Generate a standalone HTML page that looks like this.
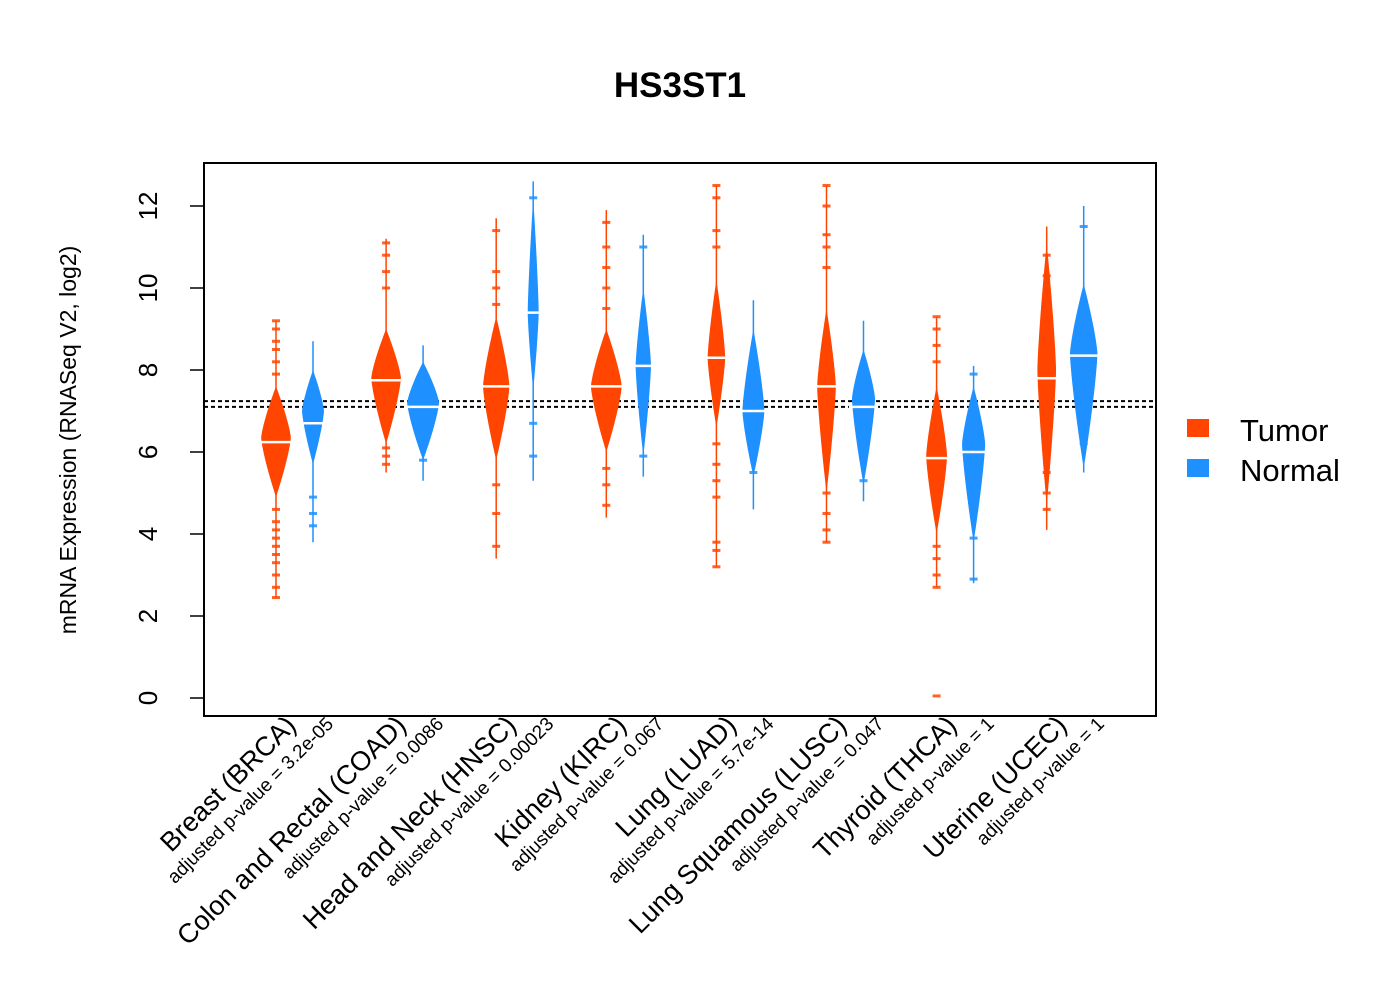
<!DOCTYPE html>
<html><head><meta charset="utf-8"><style>
body{margin:0;background:#fff}
svg text{font-family:"Liberation Sans",sans-serif}
</style></head><body>
<svg id="chart" width="1400" height="1000" viewBox="0 0 1400 1000" xmlns="http://www.w3.org/2000/svg">
<rect x="0" y="0" width="1400" height="1000" fill="#fff"/>
<text x="680" y="97" text-anchor="middle" font-size="35" font-weight="bold">HS3ST1</text>
<text transform="translate(76,440) rotate(-90)" text-anchor="middle" font-size="23">mRNA Expression (RNASeq V2, log2)</text>
<g id="beans"></g>
<g id="axes"></g>
<rect x="204" y="163" width="952" height="553" fill="none" stroke="#000" stroke-width="2"/>
<g>
<rect x="1187" y="419" width="22" height="18" fill="#FF4500"/>
<text x="1240" y="441" font-size="31">Tumor</text>
<rect x="1187" y="459" width="22" height="18" fill="#1E90FF"/>
<text x="1240" y="481" font-size="31">Normal</text>
</g>
</svg>
<script>
const cancers=["Breast (BRCA)","Colon and Rectal (COAD)","Head and Neck (HNSC)","Kidney (KIRC)","Lung (LUAD)","Lung Squamous (LUSC)","Thyroid (THCA)","Uterine (UCEC)"];
const pvals=["3.2e-05","0.0086","0.00023","0.067","5.7e-14","0.047","1","1"];
const yTicks=[0,2,4,6,8,10,12];
const refLines=[7.24,7.1];
// tumor beans
const tLo=[2.45,5.5,3.4,4.4,3.2,3.8,2.7,4.1];
const tHi=[9.2,11.2,11.7,11.9,12.5,12.5,9.3,11.5];
const tBodyLo=[4.9,6.2,5.8,6.0,6.6,5.0,4.0,4.7];
const tBodyHi=[7.6,9.0,9.3,9.0,10.2,9.5,7.6,11.1];
const tMode=[6.35,7.8,7.6,7.6,8.3,7.6,5.9,8.0];
const tMed=[6.24,7.75,7.6,7.6,8.3,7.6,5.85,7.8];
const tWidth=[0.27,0.27,0.24,0.28,0.16,0.17,0.19,0.17];
// normal beans
const nLo=[3.8,5.3,5.3,5.4,4.6,4.8,2.8,5.5];
const nHi=[8.7,8.6,12.6,11.3,9.7,9.2,8.1,12.0];
const nBodyLo=[5.7,5.8,7.5,5.9,5.4,5.2,3.8,5.6];
const nBodyHi=[8.0,8.2,12.2,10.0,9.0,8.5,7.6,10.1];
const nMode=[7.0,7.2,9.4,8.1,7.0,7.3,6.2,8.4];
const nMed=[6.7,7.1,9.4,8.1,7.0,7.1,6.0,8.35];
const nWidth=[0.2,0.29,0.1,0.14,0.2,0.21,0.21,0.25];
// sample outlier marks
const tOut=[[2.45,2.7,3.0,3.3,3.5,3.7,3.9,4.1,4.3,4.6,7.9,8.2,8.5,8.7,9.0,9.2],[5.7,5.9,6.1,10.0,10.4,10.8,11.1],[3.7,4.5,5.2,9.6,10.0,10.4,11.4],[4.7,5.2,5.6,9.5,10.0,10.5,11.0,11.6],[3.2,3.6,3.8,4.9,5.3,5.7,6.2,11.0,11.4,12.2,12.5],[3.8,4.1,4.5,5.0,10.5,11.0,11.3,12.0,12.5],[0.05,2.7,3.0,3.4,3.7,8.2,8.6,9.0,9.3],[4.6,5.0,5.5,10.3,10.8]];
const nOut=[[4.2,4.5,4.9],[5.8],[5.9,6.7,12.2],[5.9,11.0],[5.5],[5.3],[2.9,3.9,7.9],[6.2,6.5,11.5]];

const NS="http://www.w3.org/2000/svg";
const X0=204,X1=1156;
const yScale=v=>698-41*v;
const xScale=p=>276+110.1*p;
const unit=110.1;
const beans=document.getElementById('beans'), axes=document.getElementById('axes');
function mk(tag,attrs,parent){const e=document.createElementNS(NS,tag);for(const k in attrs)e.setAttribute(k,attrs[k]);parent.appendChild(e);return e;}

refLines.forEach(v=>{
  const l=mk('line',{x1:X0,x2:X1,y1:yScale(v),y2:yScale(v),stroke:'#000','stroke-width':2,'stroke-dasharray':'4,3'},beans);
  
  
});

function drawBean(cx,lo,hi,bl,bh,mode,med,w,outs,color,name){
  const g=mk('g',{},beans);
  
  
  const ln=mk('line',{x1:cx,x2:cx,y1:yScale(lo),y2:yScale(hi),stroke:color,'stroke-width':1.5},g);
  
  
  const hw=w*unit/2;
  let pts=[];const N=40;
  const wAt=v=>{const t=v<mode?(mode-v)/(mode-bl):(v-mode)/(bh-mode);return hw*Math.max(0,1-Math.pow(t,1.3));};
  for(let i=0;i<=N;i++){const v=bl+(bh-bl)*i/N;pts.push([cx+wAt(v),yScale(v)]);}
  for(let i=N;i>=0;i--){const v=bl+(bh-bl)*i/N;pts.push([cx-wAt(v),yScale(v)]);}
  const pg=mk('polygon',{points:pts.map(p=>p.join(',')).join(' '),fill:color},g);
  
  
  outs.forEach(v=>{
    const o=mk('rect',{x:cx-4,y:yScale(v)-1.5,width:8,height:3,fill:color,opacity:0.85},g);
    
    
  });
  const m=mk('line',{x1:cx-hw-3,x2:cx+hw+3,y1:yScale(med),y2:yScale(med),stroke:'#fff','stroke-width':2.5},g);
  
  
}
cancers.forEach((c,i)=>{
  drawBean(xScale(i),tLo[i],tHi[i],tBodyLo[i],tBodyHi[i],tMode[i],tMed[i],tWidth[i],tOut[i],'#FF4500','bean-tumor-'+i);
  drawBean(xScale(i+0.336),nLo[i],nHi[i],nBodyLo[i],nBodyHi[i],nMode[i],nMed[i],nWidth[i],nOut[i],'#1E90FF','bean-normal-'+i);
  const gc=xScale(i+0.168);
  const t1=mk('text',{transform:`translate(${gc+3},727) rotate(-45)`,'text-anchor':'end','font-size':27},axes);
  t1.textContent=c;
  
  
  const t2=mk('text',{transform:`translate(${gc+40},725) rotate(-45)`,'text-anchor':'end','font-size':19},axes);
  t2.textContent='adjusted p-value = '+pvals[i];
  
  
});
yTicks.forEach(v=>{
  const y=yScale(v);
  const tk=mk('line',{x1:190,x2:204,y1:y,y2:y,stroke:'#000','stroke-width':1.5},axes);
  
  
  const tl=mk('text',{transform:`translate(157,${y}) rotate(-90)`,'text-anchor':'middle','font-size':26},axes);
  tl.textContent=v;
  
  
});
const ax=mk('line',{x1:204,x2:204,y1:yScale(0),y2:yScale(12),stroke:'#000','stroke-width':1.5},axes);


</script>
</body></html>
